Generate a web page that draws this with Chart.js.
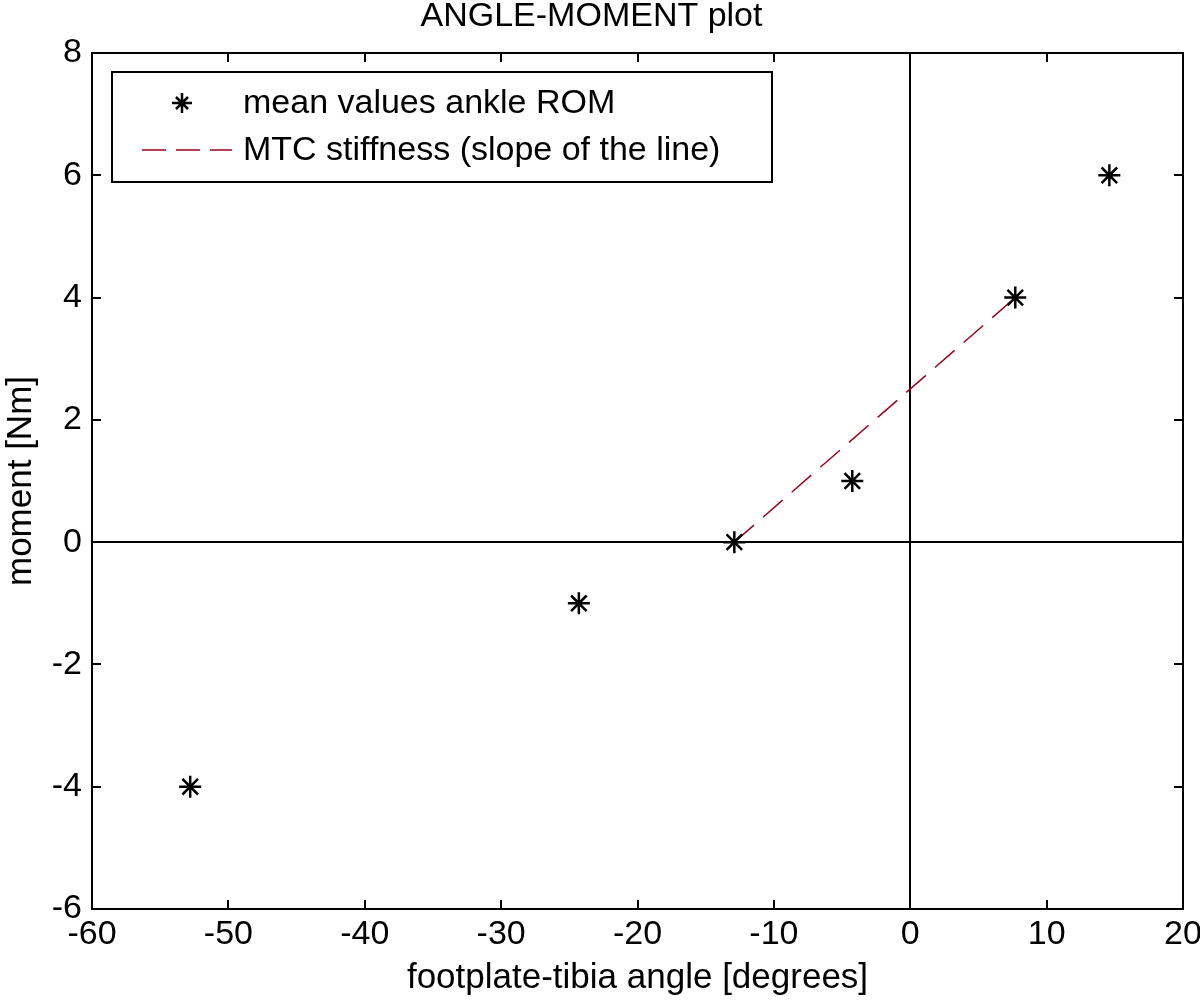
<!DOCTYPE html>
<html>
<head>
<meta charset="utf-8">
<script src="https://cdn.jsdelivr.net/npm/chart.js@4"></script>
<style>
  html, body { margin: 0; padding: 0; background: #fff; }
  #wrap { width: 1200px; height: 1007px; }
</style>
</head>
<body>
<div id="wrap"><canvas id="angleChart" width="1200" height="1007"></canvas></div>
<script>
// measured mean values (angle in degrees, moment in Nm)
const angles = [-52.8, -24.3, -12.9, -4.25, 7.7, 14.6];
const moments = [-4, -1, 0, 1, 4, 6];

// stiffness line end points
const fitAngles = [-12.9, 7.7];
const fitMoments = [0, 4];

const xTicks = [-60, -50, -40, -30, -20, -10, 0, 10, 20];
const yTicks = [-6, -4, -2, 0, 2, 4, 6, 8];

const FONT = "'Liberation Sans', Arial, sans-serif";
const lineRed = '#a0001e';

const toPoints = (xs, ys) => xs.map((x, i) => ({ x, y: ys[i] }));

// box + inward ticks on all four sides
const framePlugin = {
  id: 'frame',
  beforeDatasetsDraw(chart) {
    const { ctx, chartArea: a, scales } = chart;
    const tl = 9;
    ctx.save();
    ctx.strokeStyle = '#000';
    ctx.lineWidth = 2;
    ctx.strokeRect(a.left, a.top, a.right - a.left, a.bottom - a.top);
    ctx.beginPath();
    xTicks.forEach(v => {
      const px = Math.round(scales.x.getPixelForValue(v));
      ctx.moveTo(px, a.bottom); ctx.lineTo(px, a.bottom - tl);
      ctx.moveTo(px, a.top); ctx.lineTo(px, a.top + tl);
    });
    yTicks.forEach(v => {
      const py = Math.round(scales.y.getPixelForValue(v));
      ctx.moveTo(a.left, py); ctx.lineTo(a.left + tl, py);
      ctx.moveTo(a.right, py); ctx.lineTo(a.right - tl, py);
    });
    ctx.stroke();
    ctx.restore();
  }
};

// matlab-like legend box inside the axes
const boxLegend = {
  id: 'boxLegend',
  afterDraw(chart) {
    const { ctx, chartArea: a } = chart;
    const ds = chart.data.datasets;
    const left = a.left + 20, top = a.top + 19;
    const w = 660, h = 110;
    ctx.save();
    ctx.fillStyle = '#fff';
    ctx.fillRect(left, top, w, h);
    ctx.strokeStyle = '#000';
    ctx.lineWidth = 2;
    ctx.strokeRect(left, top, w, h);

    // row 1: star marker
    const y1 = top + 31, y2 = top + 78;
    const mx = left + 70, r = 10;
    ctx.lineWidth = 2.5;
    ctx.beginPath();
    ctx.moveTo(mx - r, y1); ctx.lineTo(mx + r, y1);
    ctx.moveTo(mx, y1 - r); ctx.lineTo(mx, y1 + r);
    const d = r * 0.6;
    ctx.moveTo(mx - d, y1 - d); ctx.lineTo(mx + d, y1 + d);
    ctx.moveTo(mx - d, y1 + d); ctx.lineTo(mx + d, y1 - d);
    ctx.stroke();

    // row 2: dashed line
    ctx.strokeStyle = lineRed;
    ctx.lineWidth = 1.5;
    ctx.setLineDash([24, 10]);
    ctx.beginPath();
    ctx.moveTo(left + 30, y2); ctx.lineTo(left + 120, y2);
    ctx.stroke();
    ctx.setLineDash([]);

    ctx.fillStyle = '#000';
    ctx.font = '34px ' + FONT;
    ctx.textBaseline = 'middle';
    ctx.textAlign = 'left';
    ctx.fillText(ds[0].label, left + 131, y1 + 1);
    ctx.fillText(ds[1].label, left + 131, y2 + 1);
    ctx.restore();
  }
};

const ctx = document.getElementById('angleChart').getContext('2d');

new Chart(ctx, {
  type: 'scatter',
  data: {
    datasets: [
      {
        label: 'mean values ankle ROM',
        data: toPoints(angles, moments),
        pointStyle: 'star',
        pointRadius: 11,
        pointHoverRadius: 11,
        borderColor: '#000',
        backgroundColor: '#000',
        borderWidth: 2.5,
        showLine: false
      },
      {
        label: 'MTC stiffness (slope of the line)',
        type: 'line',
        data: toPoints(fitAngles, fitMoments),
        borderColor: lineRed,
        borderWidth: 1.5,
        borderDash: [26, 12],
        pointRadius: 0,
        fill: false
      }
    ]
  },
  options: {
    responsive: false,
    animation: false,
    layout: { padding: { left: 0, right: 17, top: 0, bottom: 0 } },
    plugins: {
      legend: { display: false },
      tooltip: { enabled: false },
      title: {
        display: true,
        text: 'ANGLE-MOMENT plot',
        color: '#000',
        font: { family: FONT, size: 34, weight: 'normal', lineHeight: 1 },
        padding: { top: 0, bottom: 19 }
      }
    },
    scales: {
      x: {
        type: 'linear',
        min: -60,
        max: 20,
        afterBuildTicks: s => { s.ticks = xTicks.map(v => ({ value: v })); },
        afterFit: s => { s.height = 98; s.paddingLeft = 0; s.paddingRight = 0; },
        border: { display: false },
        grid: {
          drawTicks: false,
          lineWidth: 2,
          color: c => (c.tick && c.tick.value === 0 ? '#000' : 'rgba(0,0,0,0)')
        },
        ticks: {
          color: '#000',
          padding: 5,
          maxRotation: 0,
          font: { family: FONT, size: 34 }
        },
        title: {
          display: true,
          text: 'footplate-tibia angle [degrees]',
          color: '#000',
          font: { family: FONT, size: 35 },
          padding: { top: 0, bottom: 8 }
        }
      },
      y: {
        type: 'linear',
        min: -6,
        max: 8,
        afterBuildTicks: s => { s.ticks = yTicks.map(v => ({ value: v })); },
        afterFit: s => { s.width = 92; s.paddingTop = 0; s.paddingBottom = 0; },
        border: { display: false },
        grid: {
          drawTicks: false,
          lineWidth: 2,
          color: c => (c.tick && c.tick.value === 0 ? '#000' : 'rgba(0,0,0,0)')
        },
        ticks: {
          color: '#000',
          padding: 10,
          font: { family: FONT, size: 34 }
        },
        title: {
          display: true,
          text: 'moment [Nm]',
          color: '#000',
          font: { family: FONT, size: 35 },
          padding: { top: 0, bottom: 0 }
        }
      }
    }
  },
  plugins: [framePlugin, boxLegend]
});
</script>
</body>
</html>
